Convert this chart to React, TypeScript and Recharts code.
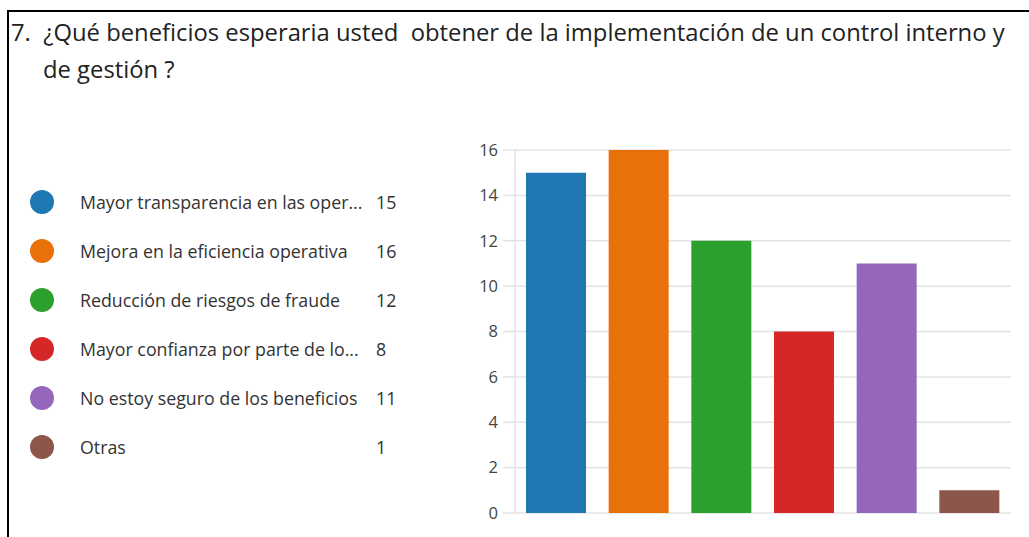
import React from 'react';
import { BarChart, Bar, XAxis, YAxis, CartesianGrid, Cell } from 'recharts';

const categories = [
  'Mayor transparencia en las oper...',
  'Mejora en la eficiencia operativa',
  'Reducción de riesgos de fraude',
  'Mayor confianza por parte de lo...',
  'No estoy seguro de los beneficios',
  'Otras',
];
const values = [15, 16, 12, 8, 11, 1];
const colors = ['#1f77b4', '#e8710a', '#2ca02c', '#d62728', '#9467bd', '#8c564b'];
const yTicks = [0, 2, 4, 6, 8, 10, 12, 14, 16];
const titleLine1 = '7.  ¿Qué beneficios esperaria usted  obtener de la implementación de un control interno y';
const titleLine2 = 'de gestión ?';

const data = categories.map((name, i) => ({ name, value: values[i] }));

const font = '"Open Sans", "Noto Sans", sans-serif';

export default function App() {
  return (
    <div style={{ position: 'absolute', left: 0, top: 0, width: 1029, height: 537, background: '#fff', overflow: 'hidden', fontFamily: font }}>
      <div style={{ position: 'absolute', left: 7, top: 10, width: 1030, height: 540, borderLeft: '2px solid #000', borderTop: '2px solid #000' }} />
      <div style={{ position: 'absolute', left: 11, top: 14, fontSize: 23.8, color: '#222', whiteSpace: 'pre', lineHeight: '37px' }}>
        <div>{titleLine1}</div>
        <div style={{ paddingLeft: 32 }}>{titleLine2}</div>
      </div>
      {categories.map((c, i) => (
        <div key={c} style={{ position: 'absolute', left: 30, top: 202 + i * 49 - 12, height: 24, display: 'flex', alignItems: 'center', fontSize: 17.8, color: '#333', whiteSpace: 'pre' }}>
          <div style={{ width: 24, height: 24, borderRadius: 12, background: colors[i], marginRight: 26 }} />
          <div style={{ width: 296 }}>{c}</div>
          <div>{values[i]}</div>
        </div>
      ))}
      <div style={{ position: 'absolute', left: 0, top: 0 }}>
        <BarChart width={1029} height={537} data={data} margin={{ top: 150, right: 18, bottom: 24, left: 475 }}>
          <CartesianGrid vertical={false} stroke="#e3e3e3" strokeWidth={1.5} />
          <XAxis dataKey="name" hide />
          <YAxis
            width={40}
            domain={[0, 16]}
            ticks={yTicks}
            interval={0}
            axisLine={{ stroke: '#e3e3e3', strokeWidth: 1.5 }}
            tickLine={{ stroke: '#e3e3e3', strokeWidth: 1.5 }}
            tickSize={12}
            tickMargin={5}
            tick={{ fill: '#444', fontSize: 16.5, fontFamily: font }}
          />
          <Bar dataKey="value" barSize={60} isAnimationActive={false}>
            {data.map((d, i) => (
              <Cell key={d.name} fill={colors[i]} />
            ))}
          </Bar>
        </BarChart>
      </div>
    </div>
  );
}
